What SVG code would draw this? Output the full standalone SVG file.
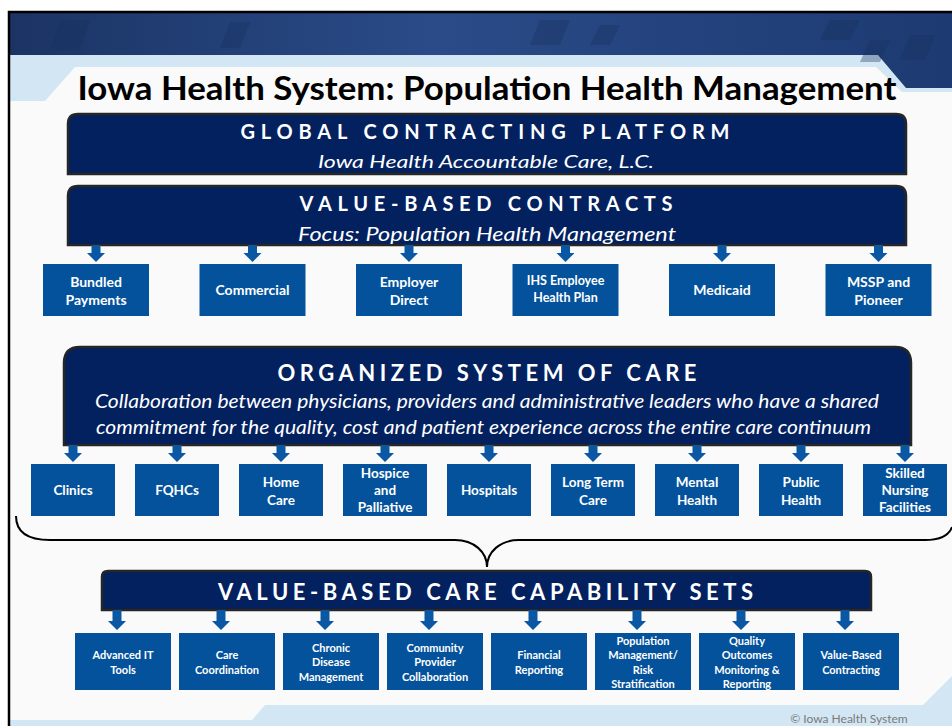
<svg xmlns="http://www.w3.org/2000/svg" xmlns:xlink="http://www.w3.org/1999/xlink" width="952" height="726" viewBox="0 0 952 726">
  <defs>
    <linearGradient id="bandGrad" x1="0" y1="0" x2="1" y2="0">
      <stop offset="0" stop-color="#1b3464"/>
      <stop offset="0.45" stop-color="#2a4b88"/>
      <stop offset="1" stop-color="#1d3a72"/>
    </linearGradient>
    <!-- short down arrow (contract and care rows) -->
    <path id="arr" d="M-4.5,0 h9 v8 h4.5 l-9,9 l-9,-9 h4.5 z"/>
    <!-- longer down arrow (capability row) -->
    <path id="arrL" d="M-4.5,0 h9 v11 h4.5 l-9,9 l-9,-9 h4.5 z"/>
    <style>
      .ban { fill: #03215f; stroke: #262626; stroke-width: 2.5; }
      .hd { fill: #ffffff; font-family: Lato, "Liberation Sans", sans-serif; font-weight: 700; text-anchor: middle; }
      .sub { fill: #ffffff; font-family: Lato, "Liberation Sans", sans-serif; font-style: italic; text-anchor: middle; }
      .box { fill: #03529b; }
      .lbl { fill: #ffffff; font-family: Lato, "Liberation Sans", sans-serif; font-weight: 700; text-anchor: middle; }
      .l14 { font-size: 14px; }
      .l13 { font-size: 13.5px; }
      .l11 { font-size: 11px; }
      .arrow { fill: #0a58a3; }
    </style>
  </defs>

  <!-- slide background -->
  <rect x="0" y="0" width="952" height="726" fill="#ffffff"/>
  <rect x="10" y="13" width="942" height="713" fill="#d3e6f3"/>
  <polygon points="10,13 952,13 952,88 906,88 878,55 10,55" fill="url(#bandGrad)"/>
  <g fill="#17305e" opacity="0.35">
    <polygon points="60,20 90,20 80,50 50,50"/>
    <polygon points="230,22 250,22 240,48 220,48"/>
    <polygon points="540,20 570,20 560,45 530,45"/>
    <polygon points="600,25 620,25 610,45 590,45"/>
    <polygon points="830,20 860,20 850,40 820,40"/>
    <polygon points="910,35 935,35 925,60 900,60"/>
    <polygon points="870,40 890,40 880,62 860,62"/>
  </g>
  <polygon points="75,67 876,67 902,92 952,92 952,705 923,705 952,676 952,726 10,726 10,101 45,101" fill="#fafafa"/>
  <polygon points="265,705 923,705 952,676 952,726 10,726 10,720 252,720" fill="#d3e6f3"/>
  <path d="M9,726 V12 H952" fill="none" stroke="#000000" stroke-width="2.5"/>

  <text x="487" y="100" font-family="Lato, 'Liberation Sans', sans-serif" font-weight="700" font-size="32" text-anchor="middle" fill="#000000" textLength="819" lengthAdjust="spacingAndGlyphs">Iowa Health System: Population Health Management</text>

  <!-- top tier banners -->
  <g id="global-contracting">
    <path class="ban" d="M68,174 V124 Q68,114 78,114 H896 Q906,114 906,124 V174 Z"/>
    <text class="hd" x="485" y="139" font-size="20" textLength="489" lengthAdjust="spacing">GLOBAL CONTRACTING PLATFORM</text>
    <text class="sub" x="486" y="168" font-size="18" textLength="336" lengthAdjust="spacingAndGlyphs">Iowa Health Accountable Care, L.C.</text>
  </g>
  <g id="value-contracts">
    <path class="ban" d="M68,245 V196 Q68,186 78,186 H896 Q906,186 906,196 V245 Z"/>
    <text class="hd" x="486" y="211" font-size="20" textLength="373" lengthAdjust="spacing">VALUE-BASED CONTRACTS</text>
    <text class="sub" x="487" y="241" font-size="19" textLength="378" lengthAdjust="spacingAndGlyphs">Focus: Population Health Management</text>
  </g>

  <!-- contract types -->
  <g id="bundled"><rect class="box" x="43" y="264" width="106" height="52"/><text class="lbl l14" x="96" y="287">Bundled</text><text class="lbl l14" x="96" y="305">Payments</text></g>
  <g id="commercial"><rect class="box" x="199.5" y="264" width="106" height="52"/><text class="lbl l14" x="252.5" y="295">Commercial</text></g>
  <g id="employer"><rect class="box" x="356" y="264" width="106" height="52"/><text class="lbl l14" x="409" y="287">Employer</text><text class="lbl l14" x="409" y="305">Direct</text></g>
  <g id="ihs-plan"><rect class="box" x="512.5" y="264" width="106" height="52"/><text class="lbl" font-size="12.5" x="565.5" y="285">IHS Employee</text><text class="lbl" font-size="12.5" x="565.5" y="302">Health Plan</text></g>
  <g id="medicaid"><rect class="box" x="669" y="264" width="106" height="52"/><text class="lbl l14" x="722" y="295">Medicaid</text></g>
  <g id="mssp"><rect class="box" x="825.5" y="264" width="106" height="52"/><text class="lbl l14" x="878.5" y="287">MSSP and</text><text class="lbl l14" x="878.5" y="305">Pioneer</text></g>

  <!-- organized system of care -->
  <g id="system-of-care">
    <path class="ban" d="M64,445 V363 Q64,347 80,347 H895 Q911,347 911,363 V445 Z"/>
    <text class="hd" x="487" y="381" font-size="22" textLength="419" lengthAdjust="spacing">ORGANIZED SYSTEM OF CARE</text>
    <text class="sub" x="487" y="408" font-size="19" textLength="784" lengthAdjust="spacingAndGlyphs">Collaboration between physicians, providers and administrative leaders who have a shared</text>
    <text class="sub" x="483.5" y="434" font-size="19" textLength="775" lengthAdjust="spacingAndGlyphs">commitment for the quality, cost and patient experience across the entire care continuum</text>
  </g>

  <g id="clinics"><rect class="box" x="31" y="464" width="84" height="52"/><text class="lbl l13" x="73" y="495">Clinics</text></g>
  <g id="fqhcs"><rect class="box" x="135" y="464" width="84" height="52"/><text class="lbl l13" x="177" y="495">FQHCs</text></g>
  <g id="home-care"><rect class="box" x="239" y="464" width="84" height="52"/><text class="lbl l13" x="281" y="487">Home</text><text class="lbl l13" x="281" y="505">Care</text></g>
  <g id="hospice"><rect class="box" x="343" y="464" width="84" height="52"/><text class="lbl l13" x="385" y="478">Hospice</text><text class="lbl l13" x="385" y="495">and</text><text class="lbl l13" x="385" y="512">Palliative</text></g>
  <g id="hospitals"><rect class="box" x="447" y="464" width="84" height="52"/><text class="lbl l13" x="489" y="495">Hospitals</text></g>
  <g id="long-term"><rect class="box" x="551" y="464" width="84" height="52"/><text class="lbl l13" x="593" y="487">Long Term</text><text class="lbl l13" x="593" y="505">Care</text></g>
  <g id="mental"><rect class="box" x="655" y="464" width="84" height="52"/><text class="lbl l13" x="697" y="487">Mental</text><text class="lbl l13" x="697" y="505">Health</text></g>
  <g id="public"><rect class="box" x="759" y="464" width="84" height="52"/><text class="lbl l13" x="801" y="487">Public</text><text class="lbl l13" x="801" y="505">Health</text></g>
  <g id="skilled"><rect class="box" x="863" y="464" width="84" height="52"/><text class="lbl l13" x="905" y="478">Skilled</text><text class="lbl l13" x="905" y="495">Nursing</text><text class="lbl l13" x="905" y="512">Facilities</text></g>

  <!-- capability sets -->
  <g id="capability-sets">
    <path class="ban" d="M102,610 V577 Q102,571 108,571 H865 Q871,571 871,577 V610 Z"/>
    <text class="hd" x="485.5" y="600" font-size="22" textLength="535" lengthAdjust="spacing">VALUE-BASED CARE CAPABILITY SETS</text>
  </g>

  <g id="advanced-it"><rect class="box" x="75" y="633" width="96" height="57"/><text class="lbl l11" x="123" y="659">Advanced IT</text><text class="lbl l11" x="123" y="674">Tools</text></g>
  <g id="care-coord"><rect class="box" x="179" y="633" width="96" height="57"/><text class="lbl l11" x="227" y="659">Care</text><text class="lbl l11" x="227" y="674">Coordination</text></g>
  <g id="chronic"><rect class="box" x="283" y="633" width="96" height="57"/><text class="lbl l11" x="331" y="652">Chronic</text><text class="lbl l11" x="331" y="666">Disease</text><text class="lbl l11" x="331" y="681">Management</text></g>
  <g id="community"><rect class="box" x="387" y="633" width="96" height="57"/><text class="lbl l11" x="435" y="652">Community</text><text class="lbl l11" x="435" y="666">Provider</text><text class="lbl l11" x="435" y="681">Collaboration</text></g>
  <g id="financial"><rect class="box" x="491" y="633" width="96" height="57"/><text class="lbl l11" x="539" y="659">Financial</text><text class="lbl l11" x="539" y="674">Reporting</text></g>
  <g id="population"><rect class="box" x="595" y="633" width="96" height="57"/><text class="lbl l11" x="643" y="645">Population</text><text class="lbl l11" x="643" y="659">Management/</text><text class="lbl l11" x="643" y="674">Risk</text><text class="lbl l11" x="643" y="688">Stratification</text></g>
  <g id="quality"><rect class="box" x="699" y="633" width="96" height="57"/><text class="lbl l11" x="747" y="645">Quality</text><text class="lbl l11" x="747" y="659">Outcomes</text><text class="lbl l11" x="747" y="674">Monitoring &amp;</text><text class="lbl l11" x="747" y="688">Reporting</text></g>
  <g id="vb-contracting"><rect class="box" x="803" y="633" width="96" height="57"/><text class="lbl l11" x="851" y="659">Value-Based</text><text class="lbl l11" x="851" y="674">Contracting</text></g>

  <!-- connectors: down arrows and the grouping brace -->
  <g id="connectors">
    <g class="arrow">
      <use xlink:href="#arr" x="96" y="245"/>
      <use xlink:href="#arr" x="252.5" y="245"/>
      <use xlink:href="#arr" x="409" y="245"/>
      <use xlink:href="#arr" x="565.5" y="245"/>
      <use xlink:href="#arr" x="722" y="245"/>
      <use xlink:href="#arr" x="878.5" y="245"/>

      <use xlink:href="#arr" x="73" y="445"/>
      <use xlink:href="#arr" x="177" y="445"/>
      <use xlink:href="#arr" x="281" y="445"/>
      <use xlink:href="#arr" x="385" y="445"/>
      <use xlink:href="#arr" x="489" y="445"/>
      <use xlink:href="#arr" x="593" y="445"/>
      <use xlink:href="#arr" x="697" y="445"/>
      <use xlink:href="#arr" x="801" y="445"/>
      <use xlink:href="#arr" x="905" y="445"/>

      <use xlink:href="#arrL" x="117" y="610"/>
      <use xlink:href="#arrL" x="221" y="610"/>
      <use xlink:href="#arrL" x="325" y="610"/>
      <use xlink:href="#arrL" x="429" y="610"/>
      <use xlink:href="#arrL" x="533" y="610"/>
      <use xlink:href="#arrL" x="637" y="610"/>
      <use xlink:href="#arrL" x="741" y="610"/>
      <use xlink:href="#arrL" x="845" y="610"/>
    </g>
    <path d="M16,516 C16,532 28,540 50,540 L455,540 C474,540 487,552 487,567 C487,552 500,540 519,540 L925,540 C940,540 949,535 952,527" fill="none" stroke="#000000" stroke-width="2"/>
  </g>

  <text x="849" y="723" font-family="Lato, 'Liberation Sans', sans-serif" font-size="12" fill="#7a7a7a" text-anchor="middle">© Iowa Health System</text>
</svg>
